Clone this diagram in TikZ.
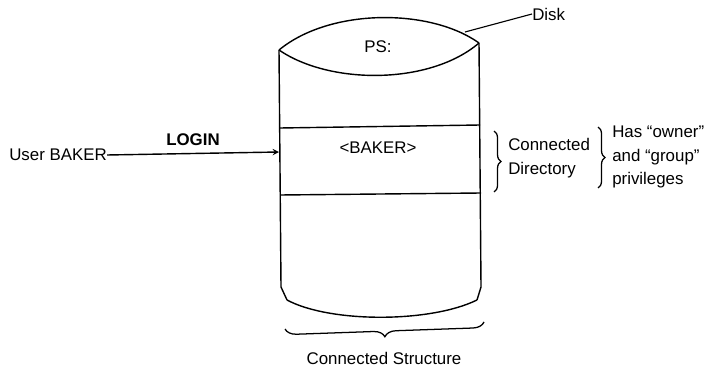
\documentclass[tikz,border=0pt]{standalone}
\usepackage{fontspec}
\setmainfont{Liberation Sans}
\usepackage{tikz}
\usetikzlibrary{positioning,decorations.pathreplacing}

\begin{document}
\begin{tikzpicture}[
  x=0.025cm, y=-0.025cm,
  wall/.style={line width=1pt},
  txt/.style={font=\fontsize{12}{14}\selectfont, inner sep=0pt},
  lines/.style={txt, align=left},
  arr/.style={->, line width=1pt, >=stealth},
  brc/.style={decorate, decoration={brace, amplitude=5pt}, line width=0.9pt}
]
  \useasboundingbox (0,0) rectangle (707,366);

  % Disk
  \coordinate (tl) at (279,50);
  \coordinate (tr) at (479,43);
  \coordinate (bl) at (287,300);
  \coordinate (br) at (477,300);
  \draw[wall] (tl) .. controls (330,8) and (430,8) .. (tr);
  \draw[wall] (tl) .. controls (330,85) and (430,85) .. (tr);
  \draw[wall] (tl) -- (281,287) -- (bl);
  \draw[wall] (tr) -- (481,287) -- (br);
  \draw[wall] (bl) .. controls (330,323) and (430,323) .. (br);
  \draw[wall] (280,128) coordinate (d1l) -- (480,125) coordinate (d1r);
  \draw[wall] (280,195) coordinate (d2l) -- (481,193) coordinate (d2r);

  \node[txt] (ps) at (378,47) {PS:};
  \node[txt] (dir) at (378,148) {<BAKER>};

  \node[txt, anchor=west] (disk) at (532,14) {Disk};
  \coordinate (rim) at (465,32);
  \draw[line width=0.8pt] (rim) -- (disk.west);

  % login
  \node[txt, anchor=west] (user) at (9,155) {User BAKER};
  \coordinate (entry) at (279,152);
  \draw[arr] (user.east) -- (entry);
  \node[txt, font=\fontsize{12}{14}\selectfont\bfseries] (login) at (193,140) {LOGIN};

  % right notes
  \draw[brc] (494,131) coordinate (b1t) -- (494,192) coordinate (b1b);
  \node[lines, anchor=west] (conn) at (508,158) {Connected\\[3pt]Directory};
  \draw[brc] (598,127) coordinate (b2t) -- (598,188) coordinate (b2b);
  \node[lines, anchor=west] (priv) at (612,157) {Has ``owner''\\[3pt]and ``group''\\[3pt]privileges};

  % bottom
  \draw[brc, decoration={amplitude=8pt}] (484,322) coordinate (b3r) -- (285,329) coordinate (b3l);
  \node[txt] (struct) at (384,358) {Connected Structure};
\end{tikzpicture}
\end{document}
